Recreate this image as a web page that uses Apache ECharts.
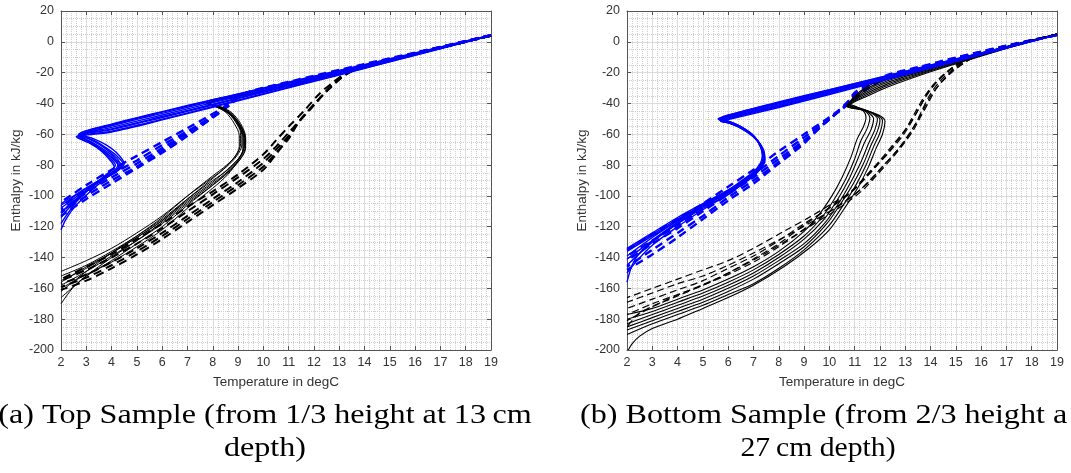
<!DOCTYPE html>
<html><head><meta charset="utf-8">
<script src="https://cdn.jsdelivr.net/npm/echarts@6/dist/echarts.min.js"></script>
<style>html,body{margin:0;padding:0;background:#fff}#c{width:1071px;height:473px}</style>
</head><body><div id="c"></div>
<script>
// ---------- DATA (Temperature degC, Enthalpy kJ/kg) ----------
const xAxisName = 'Temperature in degC';
const yAxisName = 'Enthalpy in kJ/kg';
const captionA = ['(a) Top Sample (from 1/3 height at 13\u2009cm', 'depth)'];
const captionB = ['(b) Bottom Sample (from 2/3 height a', '27\u2009cm depth)'];

// (a) Top sample
const topBlueSolid = [
 [[19,4.3],[16,-7.2],[13,-18.5],[10,-30],[8,-37.5],[6,-45.3],[4,-53.5],[2.7,-60],[3.1,-63],[3.6,-67.5],[4.0,-72.5],[4.3,-78],[4.25,-82],[3.9,-86],[3.3,-92],[2.7,-98],[2,-105]],
 [[19,4.0],[16,-8.8],[13,-21.5],[10,-34],[8,-42.5],[6,-50.7],[4,-58.5],[2.65,-62],[3.2,-66],[3.7,-71],[4.1,-76],[4.4,-80],[4.2,-84],[3.7,-89],[3.0,-96],[2.4,-103],[2,-108]],
 [[19,4.3],[16,-7.5],[13,-19.1],[10,-30.8],[8,-38.5],[6,-46.4],[4,-54.5],[2.8,-60.2],[3.3,-63],[3.8,-67],[4.2,-72],[4.5,-79],[4.3,-83],[3.6,-90],[2.9,-98],[2.3,-106],[2,-111]],
 [[19,4.1],[16,-8.3],[13,-20.6],[10,-32.8],[8,-41],[6,-49.1],[4,-57],[2.75,-61],[3.0,-63.5],[3.5,-69],[3.9,-75],[4.15,-80],[3.9,-85],[3.3,-93],[2.7,-101],[2.2,-110],[2,-114]],
 [[19,4.1],[16,-8.6],[13,-21.2],[10,-33.6],[8,-42],[6,-50.2],[4,-58],[2.6,-61.6],[3.1,-65.5],[3.6,-71],[3.95,-77],[4.1,-81],[3.8,-86],[3.2,-94],[2.6,-104],[2.2,-113],[2,-118]],
 [[19,4.2],[16,-7.8],[13,-19.7],[10,-31.6],[8,-39.5],[6,-47.5],[4,-55.5],[2.7,-61],[3.2,-65],[3.7,-70],[4.1,-75],[4.25,-80],[3.95,-86],[3.3,-95],[2.6,-106],[2.2,-115],[2,-122]],
 [[19,4.3],[16,-7.3],[13,-18.7],[10,-30.2],[8,-37.8],[6,-45.6],[4,-53.8],[2.72,-60.3],[3.3,-64],[3.8,-69],[4.2,-74],[4.45,-79],[4.2,-83],[3.5,-90],[2.8,-97],[2.3,-103],[2,-106]],
 [[19,4.1],[16,-8.2],[13,-20.3],[10,-32.4],[8,-40.5],[6,-48.5],[4,-56.5],[2.66,-61.2],[3.1,-64.5],[3.6,-70],[4.05,-76],[4.3,-81],[4.0,-85],[3.4,-92],[2.8,-100],[2.3,-107],[2,-110]]
];
const topBlueDashed = [
 [[19,4.3],[16,-7.0],[14,-14.4],[11,-26.0],[9.3,-33.3],[8.7,-40],[7,-56],[6,-65],[5,-74],[4,-83],[3,-93],[2,-104]],
 [[19,4.3],[16,-7.3],[14,-14.8],[11,-26.5],[9.2,-34],[8.6,-42],[7,-58],[6,-67],[5,-77],[4,-86],[3,-96],[2,-107]],
 [[19,4.2],[16,-7.3],[14,-15],[11,-26.8],[9.1,-34.6],[8.5,-43],[7,-59],[6,-69],[5,-79],[4,-88],[3,-98],[2,-109]],
 [[19,4.2],[16,-7.5],[14,-15.2],[11,-27],[9.0,-35],[8.4,-44.5],[7,-60],[6,-70.5],[5,-81],[4,-90],[3,-100],[2,-111]],
 [[19,4.2],[16,-7.6],[14,-15.3],[11,-27.2],[8.9,-35.5],[8.3,-45],[7,-61],[6,-72],[5,-82],[4,-92],[3,-102],[2,-113]]
];
const topBlackSolid = [
 [[19,4],[16,-8],[13,-20],[10,-32],[7.8,-40],[8.2,-41.5],[8.6,-45],[8.95,-52],[9.15,-60],[9.15,-67],[8.95,-74],[8.55,-81],[8,-88],[7,-100],[6,-113],[5,-124],[4,-134],[3,-142],[2,-149]],
 [[19,4],[16,-8],[13,-20.2],[10,-32.3],[7.9,-40.3],[8.3,-42.5],[8.7,-46],[9.05,-53],[9.25,-61],[9.25,-68],[9.05,-75],[8.6,-83],[8,-90],[7,-102],[6,-115],[5,-126],[4,-136],[3,-145],[2,-152]],
 [[19,4],[16,-8],[13,-19.8],[10,-31.8],[7.7,-39.5],[8.1,-42],[8.5,-45.5],[8.85,-53],[9.05,-61],[9.05,-68],[8.85,-75],[8.4,-83],[7.9,-90],[7,-102],[6,-116],[5,-127],[4,-137],[3,-147],[2,-155]],
 [[19,4],[16,-8],[13,-20],[10,-32],[7.8,-40],[8.3,-43],[8.8,-48],[9.15,-56],[9.3,-64],[9.25,-71],[9.0,-78],[8.6,-85],[8,-93],[7,-105],[6,-118],[5,-129],[4,-139],[3,-149],[2,-158]],
 [[19,4],[16,-8],[13,-20.1],[10,-32.1],[7.9,-40],[8.2,-42],[8.6,-46],[8.9,-52],[9.1,-59],[9.1,-66],[8.95,-73],[8.55,-80],[8,-87],[7,-100],[6,-114],[5,-126],[4,-137],[3,-149],[2,-162]],
 [[19,4],[16,-8],[13,-20.3],[10,-32.4],[7.8,-40.5],[8.25,-43],[8.7,-47.5],[9.0,-54],[9.2,-62],[9.2,-70],[9.0,-77],[8.6,-84],[8,-92],[7,-104],[6,-117],[5,-129],[4,-140],[3,-152],[2,-166]],
 [[19,4],[16,-8],[13,-20],[10,-32],[7.85,-40],[8.3,-42],[8.75,-46],[9.1,-53],[9.3,-62],[9.3,-69],[9.1,-76],[8.7,-83],[8,-93],[7,-106],[6,-120],[5,-131],[4,-142],[3,-152],[2.5,-159],[2,-170]],
 [[19,4],[16,-8],[13,-20],[10,-32],[7.8,-40],[8.15,-42],[8.55,-45],[8.95,-51],[9.2,-59],[9.25,-67],[9.1,-74],[8.7,-81],[8,-91],[7,-103],[6,-116],[5,-127],[4,-137],[3,-146],[2,-156]],
 [[19,4],[16,-8],[13,-20],[10,-32],[7.8,-40.2],[8.25,-42.5],[8.65,-46.5],[9.0,-53],[9.2,-61],[9.2,-69],[9.0,-77],[8.6,-86],[8,-95],[7,-108],[6,-122],[5,-133],[4,-143],[3,-151],[2,-160]]
];
const topBlackDashed = [
 [[19,4],[16,-8],[14.5,-14],[13.7,-17.5],[13.2,-22],[12.7,-29],[12.2,-37],[11.6,-48],[11,-59],[10.5,-68],[10,-76],[9,-88],[8,-99],[7,-110],[6,-121],[5,-131],[4,-140],[3,-148],[2,-155]],
 [[19,4],[16,-8],[14.5,-14],[13.6,-18],[13.1,-23],[12.6,-30.5],[12.1,-39],[11.5,-50],[11,-61],[10.5,-70],[10,-78.5],[9,-91],[8,-102],[7,-113],[6,-124],[5,-134],[4,-143],[3,-151],[2,-157]],
 [[19,4],[16,-8],[14.5,-14],[13.5,-18.5],[13,-24],[12.5,-32],[12,-41],[11.4,-52],[11,-63],[10.5,-72],[10,-81],[9,-93],[8,-104],[7,-115],[6,-126],[5,-136],[4,-145],[3,-153],[2,-159]],
 [[19,4],[16,-8],[14.5,-14],[13.4,-19],[12.9,-25],[12.4,-33.5],[11.9,-43],[11.3,-54],[10.9,-64],[10.5,-73],[10,-83],[9,-95],[8,-106],[7,-117],[6,-128],[5,-138],[4,-147],[3,-155],[2,-161]],
 [[19,4],[16,-8],[14.5,-14],[13.7,-17],[13.2,-21],[12.7,-27],[12.2,-34],[11.6,-45],[11,-55],[10.5,-64],[10,-73],[9,-86],[8,-97],[7,-107],[6,-118],[5,-128],[4,-138],[3,-146],[2,-154]]
];

// (b) Bottom sample
const botBlueSolid = [
 [[19,4.5],[16,-7.2],[13,-19],[10,-31],[8,-39],[6,-47.5],[5.65,-50],[6.0,-51.5],[6.5,-55],[7.0,-61],[7.3,-68],[7.4,-75],[7.3,-80],[7.0,-85],[6.5,-91],[6,-96],[5,-105],[4,-114],[3,-124],[2,-134]],
 [[19,4.5],[16,-8.4],[13,-21.4],[10,-34.2],[8,-42.6],[6,-50.5],[5.7,-51.5],[6.05,-52.8],[6.55,-56],[7.05,-62],[7.35,-69],[7.45,-76],[7.35,-81],[7.05,-86],[6.5,-92.5],[6,-98],[5,-107],[4,-116],[3,-126],[2,-136]],
 [[19,4.5],[16,-7.4],[13,-19.5],[10,-31.6],[8,-39.7],[6,-48],[5.6,-50],[6.0,-51.5],[6.45,-54.5],[6.95,-60],[7.25,-67],[7.35,-74],[7.25,-79.5],[6.95,-85],[6.45,-91],[6,-96.5],[5,-106],[4,-116],[3,-127],[2,-139]],
 [[19,4.5],[16,-8.2],[13,-20.9],[10,-33.6],[8,-42],[6,-50],[5.75,-51.5],[6.1,-53],[6.6,-57],[7.1,-63],[7.4,-70],[7.45,-77],[7.3,-82],[7.0,-87],[6.5,-93],[6,-99],[5,-108],[4,-118],[3,-129],[2,-141]],
 [[19,4.5],[16,-7.8],[13,-20.2],[10,-32.6],[8,-40.9],[6,-49.2],[5.65,-50.8],[6.0,-52.3],[6.5,-55.8],[7.0,-61.5],[7.3,-68.5],[7.4,-75.5],[7.3,-80.5],[7.0,-86],[6.5,-92],[6,-97.5],[5,-107],[4,-118],[3,-130],[2,-145]],
 [[19,4.5],[16,-8.0],[13,-20.6],[10,-33.1],[8,-41.4],[6,-49.6],[5.7,-51.2],[6.05,-52.8],[6.55,-56.5],[7.05,-62.5],[7.35,-69.5],[7.42,-76.5],[7.3,-81.5],[7.0,-87],[6.5,-93],[6,-99],[5,-109],[4,-120],[3,-132],[2.4,-142],[2,-150]],
 [[19,4.5],[16,-7.6],[13,-19.8],[10,-32.1],[8,-40.3],[6,-48.6],[5.62,-50.3],[6.0,-51.6],[6.5,-55.2],[7.0,-61],[7.28,-68],[7.38,-75],[7.28,-80],[6.98,-85.5],[6.5,-91.5],[6,-97],[5,-106],[4,-117],[3,-129],[2.5,-137],[2.2,-145],[2,-156]],
 [[19,4.5],[16,-7.3],[13,-19.2],[10,-31.3],[8,-39.3],[6,-47.8],[5.72,-50.6],[6.05,-52.2],[6.55,-55.8],[7.05,-61.8],[7.33,-68.8],[7.43,-75.8],[7.33,-80.8],[7.03,-85.8],[6.5,-91.5],[6,-96.5],[5,-106],[4,-115],[3,-125],[2,-135]]
];
const botBlueDashed = [
 [[19,4.5],[17,-2.5],[15,-10.2],[13.5,-16.5],[12.3,-21.5],[11.5,-27.5],[11,-33],[10.75,-38.5],[10.4,-44],[10,-49],[9,-60],[8,-71],[7,-83],[6,-94],[5,-105],[4,-115],[3,-125],[2,-135]],
 [[19,4.5],[17,-2.6],[15,-10.5],[13.5,-16.9],[12.3,-22],[11.5,-28.5],[11,-34.5],[10.7,-40],[10.3,-46],[9.9,-51],[9,-62],[8,-74],[7,-86],[6,-97],[5,-108],[4,-119],[3,-129],[2,-139]],
 [[19,4.5],[17,-2.7],[15,-10.7],[13.5,-17.2],[12.3,-22.5],[11.5,-29.5],[11,-35.5],[10.65,-41],[10.2,-47.5],[9.8,-53],[9,-64],[8,-76],[7,-88],[6,-99],[5,-110],[4,-121],[3,-131],[2,-142]],
 [[19,4.5],[17,-2.8],[15,-10.9],[13.5,-17.5],[12.3,-23],[11.5,-30],[11,-36.5],[10.6,-42],[10.1,-49],[9.7,-54.5],[9,-65],[8,-78],[7,-90],[6,-101],[5,-113],[4,-124],[3,-135],[2,-146]],
 [[19,4.5],[17,-2.9],[15,-11.1],[13.5,-17.8],[12.3,-23.4],[11.5,-30.5],[11,-37.5],[10.55,-43],[10,-50],[9.6,-56],[9,-66],[8,-79],[7,-92],[6,-103],[5,-115],[4,-127],[3,-138],[2,-148]]
];
const botBlackSolid = [
 [[19,5],[17,-3.0],[15.5,-9.3],[14,-15.5],[12.3,-23],[11.4,-30],[10.95,-36],[10.8,-40],[11.05,-42],[11.35,-45],[11.45,-49],[11.35,-55],[11.1,-63],[10.85,-75],[10.5,-88],[10.1,-100],[9.6,-112],[9,-123],[8,-136],[7,-146],[6,-154],[5,-161],[4,-167],[3,-173],[2,-177]],
 [[19,5],[17,-3.3],[15.5,-9.8],[14,-16.3],[12.3,-24.2],[11.4,-31],[10.95,-36.8],[10.75,-40.5],[11.1,-42.5],[11.45,-45.5],[11.6,-49.5],[11.5,-56],[11.25,-64],[11.0,-76],[10.65,-89],[10.2,-102],[9.7,-114],[9,-126],[8,-138],[7,-148],[6,-156],[5,-163],[4,-169],[3,-175],[2,-180]],
 [[19,5],[17,-3.5],[15.5,-10.2],[14,-17],[12.3,-25.3],[11.4,-32],[10.95,-37.5],[10.75,-41],[11.15,-43],[11.55,-46],[11.75,-50],[11.65,-57],[11.4,-65],[11.1,-77],[10.75,-90],[10.3,-103],[9.8,-115],[9,-128],[8,-140],[7,-150],[6,-158],[5,-165],[4,-171],[3,-177],[2,-183]],
 [[19,5],[17,-3.7],[15.5,-10.6],[14,-17.6],[12.3,-26.3],[11.4,-33],[10.9,-38],[10.7,-41],[11.2,-43],[11.65,-46],[11.9,-50],[11.8,-57],[11.55,-66],[11.25,-78],[10.85,-91],[10.4,-104],[9.85,-117],[9,-131],[8,-142],[7,-152],[6,-160],[5,-167],[4,-173],[3,-179],[2,-185]],
 [[19,5],[17,-3.9],[15.5,-11],[14,-18.2],[12.3,-27.3],[11.4,-34],[10.9,-38.6],[10.7,-41.5],[11.25,-43.5],[11.75,-46.5],[12.0,-50.5],[11.9,-58],[11.65,-67],[11.35,-79],[10.95,-92],[10.45,-105],[9.9,-118],[9,-133],[8,-144],[7,-154],[6,-162],[5,-169],[4,-175],[3,-181],[2,-187]],
 [[19,5],[17,-4.1],[15.5,-11.4],[14,-18.8],[12.3,-28.3],[11.4,-35],[10.9,-39.2],[10.7,-42],[11.3,-44],[11.85,-47],[12.1,-51],[12.0,-59],[11.75,-68],[11.45,-80],[11.05,-93],[10.55,-106],[9.95,-120],[9,-135],[8,-147],[7,-157],[6,-164],[5,-171],[4,-177],[3,-183],[2,-190]],
 [[19,5],[17,-4.3],[15.5,-11.8],[14,-19.4],[12.3,-29.3],[11.4,-36],[10.9,-39.8],[10.7,-42],[11.35,-44.5],[11.95,-47.5],[12.2,-51.5],[12.1,-60],[11.85,-69],[11.55,-81],[11.15,-94],[10.6,-108],[10,-122],[9.2,-134],[8.2,-146],[7,-158],[6,-166],[5,-173],[4,-180],[3,-186],[2.5,-191],[2.2,-196],[2.05,-200]]
];
const botBlackDashed = [
 [[19,5],[17.5,-1],[16,-7.5],[15.3,-12.5],[14.8,-18],[14.3,-25],[13.9,-33],[13.55,-43],[13.25,-52],[12.9,-61],[12.4,-71],[11.9,-80],[11.4,-89],[10.9,-97],[10.2,-104],[9.3,-113],[8.2,-123],[7,-134],[6,-142],[5,-148],[4,-154],[3,-160],[2,-166]],
 [[19,5],[17.5,-1.5],[16,-8],[15.4,-13],[14.9,-19],[14.45,-26],[14.05,-34],[13.75,-43],[13.45,-52],[13.1,-61],[12.65,-71],[12.15,-80],[11.65,-89],[11.15,-97],[10.5,-105],[9.5,-115],[8.3,-126],[7,-137],[6,-145],[5,-152],[4,-157],[3,-163],[2,-169]],
 [[19,5],[17.5,-1.2],[16,-7.8],[15.2,-13],[14.7,-19],[14.2,-27],[13.8,-36],[13.45,-46],[13.1,-55],[12.7,-64],[12.2,-74],[11.7,-83],[11.2,-92],[10.7,-100],[10,-108],[9,-118],[8,-129],[7,-139],[6,-147],[5,-155],[4,-161],[3,-167],[2,-173]],
 [[19,5],[17.5,-1.4],[16,-8.2],[15.5,-12],[15.0,-17],[14.6,-23],[14.2,-31],[13.9,-40],[13.6,-49],[13.3,-58],[12.9,-67],[12.4,-77],[11.9,-86],[11.4,-95],[10.8,-103],[10,-112],[9,-122],[8,-133],[7,-143],[6,-151],[5,-158],[4,-164],[3,-170],[2,-177]],
 [[19,5],[17.5,-1.6],[16,-8.5],[15.1,-14],[14.6,-20],[14.1,-28],[13.7,-37],[13.35,-47],[13.0,-57],[12.5,-67],[12,-77],[11.5,-86],[11,-95],[10.4,-103],[9.7,-111],[9,-119],[8,-131],[7,-141],[6,-150],[5,-158],[4,-165],[3,-172],[2,-181]],
 [[19,5],[17.5,-1.3],[16,-8],[15.3,-13],[14.8,-19],[14.35,-26],[13.95,-35],[13.65,-45],[13.35,-55],[13.0,-64],[12.55,-73],[12.05,-82],[11.55,-91],[11.0,-99],[10.3,-107],[9.5,-116],[8.5,-127],[7.5,-137],[6.5,-146],[5.5,-154],[4.5,-161],[3.5,-168],[2.5,-176],[2,-185]]
];

// ---------- CHART ----------
const families = [
 {curves: topBlackDashed, g:0, color:'#000000', width:2, dash:[8,5]},
 {curves: topBlueDashed,  g:0, color:'#0000ff', width:2.4, dash:[8,5]},
 {curves: topBlackSolid,  g:0, color:'#000000', width:1, dash:'solid'},
 {curves: topBlueSolid,   g:0, color:'#0000ff', width:1.4, dash:'solid'},
 {curves: botBlackDashed, g:1, color:'#000000', width:1.2, dash:[7,4]},
 {curves: botBlueDashed,  g:1, color:'#0000ff', width:2.4, dash:[8,5]},
 {curves: botBlackSolid,  g:1, color:'#000000', width:1.1, dash:'solid'},
 {curves: botBlueSolid,   g:1, color:'#0000ff', width:1.4, dash:'solid'}
];
const series = [];
families.forEach(f => f.curves.forEach(c => series.push({
  type:'line', xAxisIndex:f.g*2, yAxisIndex:f.g*2, data:c, showSymbol:false, symbol:'none',
  smooth:0.3, silent:true, clip:true,
  lineStyle:{color:f.color, width:f.width, type:f.dash}
})));

const grids = [
 {left:61, top:11, width:430, height:339},
 {left:627, top:11, width:430, height:339}
];
const fontFam = '"Liberation Sans", Arial, Helvetica, sans-serif';
const labelFont = {fontFamily:fontFam, fontSize:12.5, color:'#333'};
const axisLineStyle = {color:'#555', width:1};
const xAxes = [], yAxes = [];
grids.forEach((g,i) => {
  xAxes.push({type:'value', gridIndex:i, min:2, max:19, interval:1, position:'bottom',
    name:xAxisName, nameLocation:'middle', nameGap:25,
    nameTextStyle:{fontFamily:fontFam, fontSize:13.5, color:'#333'},
    axisLine:{show:true, onZero:false, lineStyle:axisLineStyle},
    axisTick:{show:true, inside:true, length:4, lineStyle:axisLineStyle},
    axisLabel:Object.assign({margin:6}, labelFont),
    splitLine:{show:true, lineStyle:{color:'#dcdcdc', width:1}},
    minorTick:{show:false, splitNumber:5},
    minorSplitLine:{show:true, lineStyle:{color:'#cfcfcf', width:1, type:'dotted'}}});
  xAxes.push({type:'value', gridIndex:i, min:2, max:19, interval:1, position:'top',
    axisLine:{show:true, onZero:false, lineStyle:axisLineStyle},
    axisTick:{show:true, inside:true, length:4, lineStyle:axisLineStyle},
    axisLabel:{show:false}, splitLine:{show:false}});
  yAxes.push({type:'value', gridIndex:i, min:-200, max:20, interval:20, position:'left',
    name:yAxisName, nameLocation:'middle', nameGap:38,
    nameTextStyle:{fontFamily:fontFam, fontSize:13.5, color:'#333'},
    axisLine:{show:true, onZero:false, lineStyle:axisLineStyle},
    axisTick:{show:true, inside:true, length:4, lineStyle:axisLineStyle},
    axisLabel:Object.assign({margin:7}, labelFont),
    splitLine:{show:true, lineStyle:{color:'#dcdcdc', width:1}},
    minorTick:{show:false, splitNumber:4},
    minorSplitLine:{show:true, lineStyle:{color:'#cfcfcf', width:1, type:'dotted'}}});
  yAxes.push({type:'value', gridIndex:i, min:-200, max:20, interval:20, position:'right',
    axisLine:{show:true, onZero:false, lineStyle:axisLineStyle},
    axisTick:{show:true, inside:true, length:4, lineStyle:axisLineStyle},
    axisLabel:{show:false}, splitLine:{show:false}});
});

const capFont = '27px "Liberation Serif", "Times New Roman", serif';
const capScale = 1.19;
const graphic = [
 {type:'text', x:265, y:402, scaleX:capScale, style:{text:captionA[0], font:capFont, fill:'#000', textAlign:'center', textVerticalAlign:'top'}},
 {type:'text', x:265, y:435, scaleX:capScale, style:{text:captionA[1], font:capFont, fill:'#000', textAlign:'center', textVerticalAlign:'top'}},
 {type:'text', x:580, y:402, scaleX:capScale, style:{text:captionB[0], font:capFont, fill:'#000', textAlign:'left', textVerticalAlign:'top'}},
 {type:'text', x:818, y:435, scaleX:1.1, style:{text:captionB[1], font:capFont, fill:'#000', textAlign:'center', textVerticalAlign:'top'}}
];

const chart = echarts.init(document.getElementById('c'), null, {renderer:'canvas'});
chart.setOption({animation:false, backgroundColor:'#fff', grid:grids, xAxis:xAxes, yAxis:yAxes, series:series, graphic:graphic});
</script></body></html>
